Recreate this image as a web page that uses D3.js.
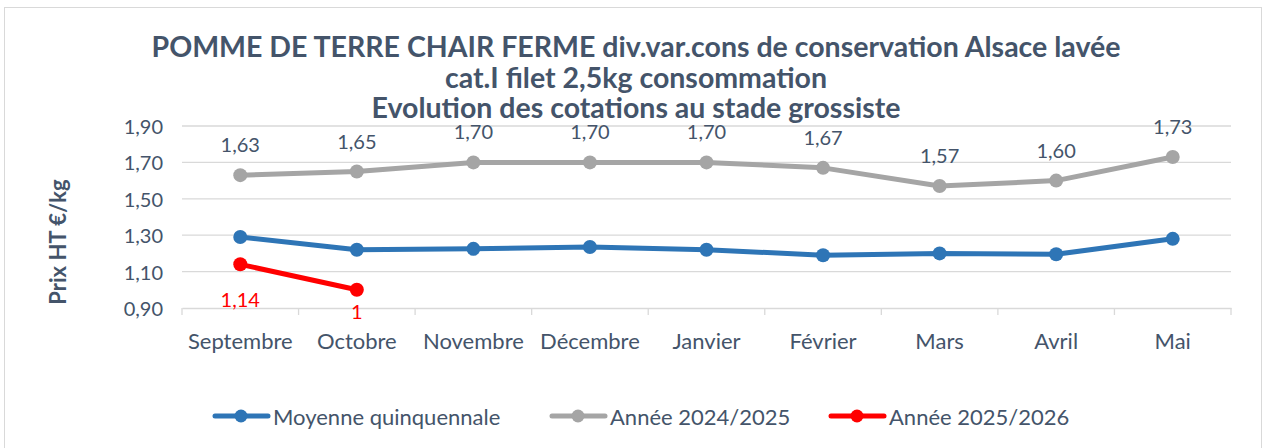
<!DOCTYPE html>
<html>
<head>
<meta charset="utf-8">
<script src="https://cdn.jsdelivr.net/npm/d3@7"></script>
<style>
  body { margin: 0; background: #fff; }
  text { font-family: Lato, "Open Sans", sans-serif; }
</style>
</head>
<body>
<svg id="chart" width="1266" height="448"></svg>
<script>
// data
const months = ["Septembre", "Octobre", "Novembre", "Décembre", "Janvier", "Février", "Mars", "Avril", "Mai"];
const moyenne = [1.29, 1.22, 1.225, 1.235, 1.22, 1.19, 1.20, 1.195, 1.28];
const annee2425 = [1.63, 1.65, 1.70, 1.70, 1.70, 1.67, 1.57, 1.60, 1.73];
const annee2526 = [1.14, 1.00];
const yTicks = [0.90, 1.10, 1.30, 1.50, 1.70, 1.90];
const titleLines = ["POMME DE TERRE CHAIR FERME div.var.cons de conservation Alsace lavée",
                    "cat.I filet 2,5kg consommation",
                    "Evolution des cotations au stade grossiste"];

const series = [
  {name: "Moyenne quinquennale", values: moyenne, color: "#2E75B6", labels: null},
  {name: "Année 2024/2025", values: annee2425, color: "#A5A5A5", labels: "above"},
  {name: "Année 2025/2026", values: annee2526, color: "#FF0000", labels: "below"}
];

const svg = d3.select("svg#chart");
const textColor = "#44546A";
const comma = v => d3.format(".2f")(v).replace(".", ",");
const labelFmt = v => v === 1 ? "1" : comma(v);

// outer frame
svg.append("rect")
   .attr("x", 4.5).attr("y", 7.5)
   .attr("width", 1257).attr("height", 450)
   .attr("fill", "white").attr("stroke", "#D9D9D9");

const plot = {left: 182, right: 1231, top: 126, bottom: 308};

const x = d3.scaleBand().domain(months).range([plot.left, plot.right]);
const y = d3.scaleLinear().domain([0.90, 1.90]).range([plot.bottom, plot.top]);
const cx = (d, i) => x(months[i]) + x.bandwidth() / 2;

// title
svg.append("g").selectAll("text").data(titleLines).join("text")
   .attr("x", 636).attr("y", (d, i) => 57 + i * 30.5)
   .attr("text-anchor", "middle")
   .attr("font-size", 28.5).attr("font-weight", "bold")
   .attr("fill", textColor)
   .text(d => d);

// gridlines
svg.append("g").selectAll("line").data(yTicks.slice(1)).join("line")
   .attr("x1", plot.left).attr("x2", plot.right)
   .attr("y1", d => y(d)).attr("y2", d => y(d))
   .attr("stroke", "#D9D9D9").attr("stroke-width", 1.3);

// y tick labels
svg.append("g").selectAll("text").data(yTicks).join("text")
   .attr("x", 163).attr("y", d => y(d))
   .attr("text-anchor", "end").attr("dominant-baseline", "central")
   .attr("font-size", 20).attr("fill", textColor)
   .text(d => comma(d));

// x axis
const xAxis = svg.append("g").attr("transform", `translate(0,${plot.bottom})`)
   .call(d3.axisBottom(x).tickSize(0));
xAxis.select(".domain").attr("stroke", "#D9D9D9").attr("stroke-width", 1.3);
xAxis.selectAll(".tick text")
   .attr("y", 32).attr("dy", null).attr("dominant-baseline", "central")
   .attr("font-size", 22).attr("fill", textColor)
   .attr("font-family", "Lato, 'Open Sans', sans-serif");
xAxis.selectAll("line.sep").data(d3.range(months.length + 1)).join("line")
   .attr("class", "sep")
   .attr("x1", i => plot.left + i * x.bandwidth()).attr("x2", i => plot.left + i * x.bandwidth())
   .attr("y1", 0).attr("y2", 7)
   .attr("stroke", "#D9D9D9").attr("stroke-width", 1.3);

// y axis title
svg.append("text")
   .attr("transform", "translate(57,242) rotate(-90)")
   .attr("text-anchor", "middle").attr("dominant-baseline", "central")
   .attr("font-size", 22).attr("font-weight", "bold")
   .attr("fill", textColor)
   .text("Prix HT €/kg");

// lines
const line = d3.line().x(cx).y(d => y(d));

series.forEach(s => {
  const g = svg.append("g");
  g.append("path").datum(s.values)
   .attr("d", line).attr("fill", "none")
   .attr("stroke", s.color).attr("stroke-width", 5)
   .attr("stroke-linejoin", "round").attr("stroke-linecap", "round");
  g.selectAll("circle").data(s.values).join("circle")
   .attr("cx", cx).attr("cy", d => y(d))
   .attr("r", 7).attr("fill", s.color);
  if (s.labels) {
    g.selectAll("text").data(s.values).join("text")
     .attr("x", cx)
     .attr("y", d => s.labels === "above" ? y(d) - 31 : Math.min(y(d) + 35, 311))
     .attr("text-anchor", "middle").attr("dominant-baseline", "central")
     .attr("font-size", 20)
     .attr("fill", s.labels === "above" ? textColor : "#FF0000")
     .text(d => labelFmt(d));
  }
});

// legend
const legendX = [213, 550, 829];
const legend = svg.append("g").selectAll("g").data(series).join("g")
   .attr("transform", (d, i) => `translate(${legendX[i]},416)`);
legend.append("line")
   .attr("x1", 2).attr("x2", 55).attr("y1", 0).attr("y2", 0)
   .attr("stroke", d => d.color).attr("stroke-width", 5).attr("stroke-linecap", "round");
legend.append("circle").attr("cx", 28).attr("cy", 0).attr("r", 6.5).attr("fill", d => d.color);
legend.append("text")
   .attr("x", 60).attr("y", 0).attr("dominant-baseline", "central")
   .attr("font-size", 22).attr("fill", textColor)
   .text(d => d.name);
</script>
</body>
</html>
